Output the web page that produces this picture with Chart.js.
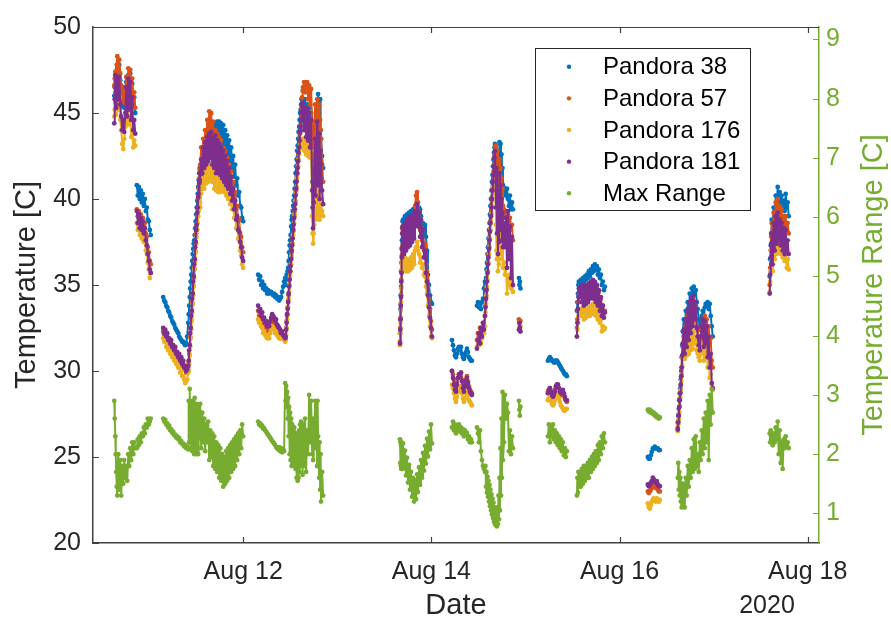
<!DOCTYPE html>
<html>
<head>
<meta charset="utf-8">
<title>Pandora temperatures</title>
<script src="https://cdn.jsdelivr.net/npm/chart.js@4.4.1/dist/chart.umd.min.js"></script>
<style>
  html, body { margin: 0; padding: 0; background: #fff; }
</style>
</head>
<body>
<canvas id="tempchart" width="891" height="624"></canvas>
<script>
// sample times, decimal day of August 2020
var dates = [
  10.630, 10.635, 10.641, 10.646, 10.651, 10.656, 10.662, 10.672, 10.683, 10.694, 10.704, 10.715, 10.725, 10.736, 10.747, 10.757, 10.768, 10.779, 10.789, 10.800, 10.810, 10.821, 10.832, 10.842, 10.853,
  10.870, 10.880, 10.891, 10.901, 10.912, 10.923, 10.933, 10.944, 10.955, 10.965, 10.976, 10.986, 10.997, 11.008, 11.018,
  11.150, 11.161, 11.172, 11.182, 11.193, 11.203, 11.214, 11.225, 11.235, 11.246, 11.256, 11.267, 11.278, 11.288, 11.299, 11.310, 11.320, 11.331, 11.342, 11.352, 11.363, 11.373, 11.384, 11.395, 11.405, 11.416,
  11.421, 11.426, 11.432, 11.437, 11.442, 11.448, 11.453, 11.458, 11.464, 11.469, 11.474, 11.480, 11.485, 11.490, 11.495, 11.501, 11.506, 11.512, 11.517, 11.522, 11.527, 11.533, 11.538,
  11.543, 11.554, 11.565, 11.575, 11.586, 11.596, 11.607, 11.618, 11.628, 11.639, 11.650, 11.660, 11.671, 11.681, 11.692, 11.703, 11.713, 11.724, 11.735, 11.745, 11.756, 11.766, 11.777, 11.788, 11.798, 11.809, 11.820, 11.830, 11.841, 11.851, 11.862, 11.873, 11.883, 11.894, 11.904, 11.915, 11.926, 11.936, 11.947, 11.958, 11.968, 11.979, 11.989, 12.000,
  12.159, 12.170, 12.181, 12.191, 12.202, 12.212, 12.223, 12.234, 12.244, 12.255, 12.265, 12.276, 12.287, 12.297, 12.308, 12.319, 12.329, 12.340, 12.350, 12.361, 12.372, 12.382, 12.393, 12.403, 12.414, 12.425, 12.435, 12.446,
  12.451, 12.457, 12.462, 12.467, 12.473, 12.478, 12.483, 12.488, 12.494, 12.499, 12.504, 12.510, 12.515, 12.520, 12.526, 12.531, 12.536, 12.542, 12.547, 12.552, 12.557, 12.563, 12.568, 12.573, 12.579, 12.584, 12.589, 12.595, 12.600, 12.605, 12.611, 12.616, 12.621, 12.626, 12.632, 12.637,
  12.648, 12.658, 12.669, 12.680, 12.690, 12.701, 12.711, 12.722, 12.733, 12.738, 12.743, 12.749, 12.754, 12.765, 12.770, 12.775, 12.786, 12.791, 12.796, 12.807, 12.812, 12.818, 12.823, 12.828, 12.839, 12.850,
  13.667, 13.670, 13.672, 13.675, 13.678, 13.680, 13.683, 13.686, 13.688, 13.691, 13.694, 13.699, 13.710, 13.720, 13.731, 13.741, 13.752, 13.763, 13.773, 13.784, 13.795, 13.805, 13.816, 13.826, 13.837, 13.848, 13.858, 13.869, 13.880, 13.890, 13.901, 13.911, 13.922, 13.933, 13.943, 13.954, 13.964, 13.975, 13.986, 13.996, 14.007,
  14.219, 14.230, 14.240, 14.251, 14.262, 14.272, 14.283, 14.293, 14.304, 14.315, 14.325, 14.336, 14.346, 14.357, 14.368, 14.378, 14.389, 14.400, 14.410, 14.421, 14.431,
  14.485, 14.496, 14.506, 14.517, 14.527, 14.538, 14.549, 14.559, 14.570,
  14.575, 14.581, 14.586, 14.591, 14.597, 14.602, 14.607, 14.613, 14.618, 14.623, 14.628, 14.634, 14.639, 14.644, 14.650, 14.655, 14.660, 14.666, 14.671, 14.676,
  14.682, 14.687, 14.692, 14.697, 14.703, 14.708, 14.713, 14.719, 14.724, 14.729, 14.735, 14.740, 14.745, 14.750, 14.756, 14.761,
  14.772, 14.782, 14.793, 14.804, 14.814, 14.825, 14.835, 14.846, 14.857, 14.867,
  14.931, 14.936, 14.941, 14.947,
  15.239, 15.249, 15.260, 15.271, 15.281, 15.292, 15.302, 15.313, 15.324, 15.334, 15.345, 15.356, 15.366, 15.377, 15.387, 15.398, 15.409, 15.419, 15.430, 15.440,
  15.547, 15.552, 15.558, 15.563, 15.568, 15.579, 15.589, 15.600, 15.611, 15.621, 15.632, 15.643, 15.653, 15.664, 15.674, 15.685, 15.696, 15.706, 15.717, 15.727, 15.738, 15.749, 15.759, 15.770, 15.780, 15.791, 15.802, 15.812, 15.823, 15.834, 15.844,
  16.301, 16.311, 16.322, 16.333, 16.343, 16.354, 16.364, 16.375, 16.386, 16.396, 16.407, 16.418, 16.428,
  16.619, 16.624, 16.630, 16.635, 16.640, 16.646, 16.651, 16.656, 16.661, 16.667, 16.672, 16.683, 16.693, 16.704, 16.714, 16.725, 16.736, 16.746, 16.757, 16.768, 16.778, 16.789, 16.799, 16.810, 16.821, 16.831, 16.842, 16.853, 16.863, 16.874, 16.884, 16.895, 16.906, 16.916, 16.927, 16.937, 16.948, 16.959, 16.969, 16.980, 16.991,
  17.596, 17.601, 17.607, 17.612, 17.617, 17.628, 17.638, 17.649, 17.660, 17.670, 17.681, 17.692, 17.702, 17.713, 17.723, 17.734, 17.745, 17.755, 17.766, 17.777, 17.787, 17.798
];

var pandora38 = [
  46.0, 46.5, 47.0, 46.8, 46.4, 47.2, 47.6, 46.8, 47.8, 46.9, 46.3, 45.4, 46.2, 45.3, 46.0, 46.8, 46.1, 47.2, 46.4, 47.3, 46.0, 46.7, 45.4, 45.9, 45.0,
  40.8, 40.2, 40.7, 40.0, 40.5, 39.8, 40.3, 39.6, 40.0, 39.3, 39.5, 38.8, 38.7, 38.2, 37.9,
  34.3, 34.1, 34.0, 33.8, 33.7, 33.5, 33.4, 33.2, 33.1, 32.9, 32.8, 32.7, 32.5, 32.4, 32.3, 32.2, 32.0, 31.9, 31.8, 31.7, 31.7, 31.6, 31.5, 31.6, 32.0, 32.8,
  33.3, 33.8, 34.3, 34.8, 35.2, 35.6, 36.0, 36.4, 36.8, 37.1, 37.4, 37.6, 37.9, 38.3, 38.7, 39.1, 39.5, 39.9, 40.3, 40.7, 41.1, 41.5, 41.8,
  40.5, 42.0, 41.0, 42.8, 41.5, 43.2, 42.0, 43.5, 42.3, 43.8, 42.5, 44.0, 42.8, 44.2, 43.0, 44.4, 43.2, 44.5, 43.4, 44.5, 43.2, 44.4, 43.0, 44.3, 42.8, 44.0, 42.6, 43.7, 42.3, 43.4, 42.0, 43.0, 41.7, 42.5, 41.3, 42.0, 40.8, 41.2, 40.2, 40.4, 39.6, 39.5, 38.9, 38.7,
  35.6, 35.3, 35.5, 35.0, 35.2, 34.8, 35.0, 34.7, 34.8, 34.5, 34.7, 34.5, 34.6, 34.6, 34.5, 34.4, 34.5, 34.3, 34.4, 34.2, 34.3, 34.1, 34.2, 34.3, 34.6, 34.9, 35.2, 35.4,
  35.0, 35.3, 35.6, 35.4, 35.8, 36.0, 36.4, 36.9, 37.3, 37.6, 37.9, 38.4, 38.8, 39.0, 39.3, 39.6, 39.9, 40.2, 40.6, 41.0, 41.5, 41.9, 42.3, 42.8, 43.1, 43.5, 43.9, 44.2, 44.6, 45.0, 45.2, 45.5, 45.8, 45.2, 44.8, 45.5,
  44.5, 45.8, 44.2, 45.5, 44.0, 45.3, 43.5, 45.0, 41.0, 42.5, 43.0, 41.5, 42.0, 44.5, 42.0, 43.0, 45.5, 43.5, 46.1, 45.0, 42.8, 45.8, 44.0, 43.5, 42.5, 41.8,
  32.2, 33.0, 33.6, 34.4, 34.9, 35.8, 36.3, 37.1, 37.6, 38.3, 38.7, 38.8, 38.3, 39.0, 38.4, 39.1, 38.5, 39.2, 38.6, 39.3, 38.7, 39.4, 38.8, 39.5, 39.0, 39.8, 39.2, 39.5, 39.4, 39.0, 38.6, 38.6, 38.0, 38.5, 37.8, 37.0, 35.6, 35.0, 34.4, 34.0, 33.9,
  31.8, 31.5, 31.2, 30.9, 30.8, 31.0, 31.3, 31.4, 31.2, 31.4, 31.0, 30.8, 30.7, 30.9, 31.1, 31.3, 31.1, 30.8, 30.7, 30.6, 30.6,
  33.8, 34.0, 33.7, 33.9, 33.6, 34.0, 34.2, 34.8, 35.2,
  35.0, 35.4, 35.9, 36.3, 36.8, 37.2, 37.7, 38.2, 38.6, 39.1, 39.6, 40.0, 40.5, 41.0, 41.4, 41.9, 42.3, 42.7, 43.0, 43.2,
  43.0, 41.5, 42.5, 40.5, 42.0, 41.0, 42.8, 41.5, 43.3, 42.0, 43.2, 41.5, 42.6, 41.0, 41.8, 40.8,
  40.4, 40.6, 40.2, 40.6, 40.0, 39.6, 40.2, 39.4, 39.8, 39.4,
  35.4, 35.0, 35.2, 34.8,
  30.6, 30.7, 30.8, 30.7, 30.6, 30.6, 30.5, 30.5, 30.6, 30.6, 30.5, 30.4, 30.3, 30.2, 30.1, 30.0, 29.9, 29.8, 29.8, 29.7,
  33.5, 34.0, 34.5, 35.0, 35.2, 35.0, 35.3, 35.1, 35.4, 35.2, 35.5, 35.3, 35.6, 35.4, 35.8, 35.5, 35.9, 35.7, 36.1, 35.8, 36.2, 35.9, 36.1, 35.6, 35.9, 35.4, 35.6, 35.0, 35.2, 34.7, 34.9,
  25.0, 24.9, 24.9, 25.1, 25.3, 25.5, 25.5, 25.6, 25.5, 25.5, 25.5, 25.4, 25.4,
  27.0, 27.4, 27.8, 28.3, 28.7, 29.0, 29.5, 30.0, 30.8, 31.5, 32.3, 33.0, 32.2, 33.5, 32.6, 34.0, 33.0, 34.5, 33.5, 34.8, 34.0, 34.9, 34.6, 34.7, 34.0, 33.6, 33.0, 32.4, 33.0, 33.2, 33.5, 32.8, 33.7, 33.9, 33.8, 34.0, 33.6, 33.9, 33.2, 32.6, 32.0,
  35.5, 36.5, 37.3, 38.0, 38.8, 38.2, 39.5, 39.0, 40.2, 39.6, 40.7, 39.8, 40.4, 39.6, 40.2, 39.4, 39.9, 39.3, 40.3, 39.5, 39.8, 39.0
];

var pandora57 = [
  46.6, 47.0, 47.4, 47.2, 46.9, 47.8, 48.3, 47.5, 48.1, 47.3, 46.6, 45.8, 46.5, 45.6, 46.3, 47.1, 46.5, 47.6, 46.8, 47.5, 46.4, 47.0, 45.8, 46.2, 45.3,
  39.4, 39.0, 39.3, 38.8, 39.1, 38.6, 38.9, 38.4, 38.6, 38.0, 37.8, 37.2, 36.9, 36.4, 36.2,
  32.3, 32.1, 32.2, 31.9, 32.0, 31.7, 31.8, 31.5, 31.6, 31.3, 31.4, 31.1, 31.2, 30.9, 31.0, 30.7, 30.8, 30.5, 30.6, 30.3, 30.4, 30.1, 30.1, 29.9, 29.9, 30.2,
  30.5, 31.0, 31.5, 32.0, 32.5, 33.0, 33.5, 34.0, 34.5, 35.0, 35.5, 36.0, 36.5, 37.0, 37.5, 38.0, 38.5, 39.0, 39.5, 40.0, 40.6, 41.2, 41.7,
  42.0, 43.0, 42.0, 43.5, 42.2, 44.0, 42.8, 44.6, 43.0, 45.1, 43.2, 45.0, 43.5, 44.5, 42.8, 44.0, 42.6, 43.8, 42.5, 43.6, 42.3, 43.4, 42.0, 43.0, 41.8, 42.8, 41.5, 42.4, 41.2, 42.0, 40.9, 41.6, 40.5, 41.0, 40.0, 40.4, 39.4, 39.6, 38.7, 38.8, 38.0, 37.8, 37.2, 36.9,
  33.5, 33.2, 33.4, 33.0, 33.1, 32.7, 32.8, 32.5, 32.6, 32.3, 32.5, 32.4, 32.6, 32.8, 32.9, 33.0, 32.8, 32.7, 32.6, 32.4, 32.3, 32.2, 32.0, 31.9, 32.1, 32.0, 31.9, 31.8,
  31.9, 32.5, 32.9, 33.2, 33.7, 34.1, 34.4, 35.0, 35.4, 35.7, 36.2, 36.6, 36.9, 37.4, 37.8, 38.1, 38.6, 39.0, 39.3, 39.8, 40.3, 40.5, 41.1, 41.4, 41.9, 42.3, 42.6, 43.1, 43.5, 43.8, 44.3, 44.8, 45.3, 45.9, 46.3, 46.5,
  46.8, 46.2, 46.7, 46.8, 45.8, 46.6, 45.5, 46.4, 44.5, 43.0, 42.5, 42.0, 44.0, 45.5, 43.0, 44.2, 45.8, 44.0, 45.0, 45.5, 43.0, 44.6, 44.0, 43.5, 42.0, 41.0,
  31.7, 32.5, 33.1, 33.9, 34.4, 35.3, 35.8, 36.7, 37.2, 38.0, 38.3, 38.0, 37.2, 38.3, 37.4, 38.5, 37.6, 38.6, 37.8, 38.8, 38.0, 39.0, 38.4, 39.6, 40.2, 40.4, 39.8, 39.2, 38.2, 38.8, 37.6, 38.2, 37.0, 37.4, 36.2, 35.8, 34.9, 34.2, 33.6, 32.9, 32.4,
  30.0, 29.8, 29.5, 29.2, 29.0, 29.3, 29.6, 29.8, 29.7, 29.9, 29.5, 29.2, 29.0, 29.2, 29.5, 29.7, 29.4, 29.1, 28.9, 28.8, 28.7,
  31.8, 32.2, 31.9, 32.5, 32.1, 32.4, 32.8, 32.6, 33.2,
  33.8, 34.3, 34.8, 35.3, 35.8, 36.3, 36.8, 37.2, 37.7, 38.2, 38.7, 39.2, 39.6, 40.1, 40.6, 41.1, 41.6, 42.0, 42.5, 43.0,
  42.8, 43.1, 42.5, 41.5, 42.8, 41.0, 42.0, 40.5, 42.3, 41.0, 41.8, 40.5, 41.2, 40.0, 40.6, 39.6,
  39.4, 39.0, 39.3, 38.8, 39.1, 38.7, 38.9, 38.2, 38.5, 37.6,
  33.0, 32.8, 32.6, 32.9,
  28.8, 28.9, 29.0, 28.8, 28.7, 28.6, 28.7, 28.9, 29.1, 29.2, 29.2, 29.0, 28.8, 28.6, 28.6, 28.7, 28.6, 28.4, 28.3, 28.2,
  32.5, 33.0, 33.6, 34.0, 34.4, 34.6, 34.8, 34.3, 34.9, 34.2, 34.7, 34.1, 34.8, 34.3, 34.9, 34.4, 35.0, 34.5, 35.1, 34.6, 35.1, 34.4, 34.9, 34.2, 34.6, 34.0, 34.2, 33.6, 33.8, 33.4, 33.5,
  23.0, 22.9, 23.0, 23.1, 23.2, 23.4, 23.3, 23.3, 23.2, 23.3, 23.1, 23.0, 23.0,
  26.7, 27.1, 27.5, 27.9, 28.4, 28.8, 29.2, 29.7, 30.2, 30.8, 31.4, 32.0, 31.2, 32.6, 31.6, 33.2, 32.0, 33.6, 32.5, 33.8, 32.8, 34.0, 33.2, 33.8, 32.6, 32.4, 31.8, 31.5, 32.0, 32.5, 33.0, 31.8, 33.2, 32.5, 33.0, 32.2, 32.6, 31.6, 31.9, 30.6, 30.2,
  35.0, 36.0, 37.0, 37.8, 38.6, 37.5, 39.2, 38.2, 39.8, 38.6, 40.0, 38.8, 39.6, 38.6, 39.4, 38.3, 39.0, 38.2, 39.0, 38.2, 38.6, 38.0
];

var pandora176 = [
  44.8, 45.2, 45.6, 45.3, 44.9, 45.6, 46.2, 45.2, 45.9, 44.6, 44.0, 43.2, 42.9, 43.5, 44.2, 45.0, 44.3, 45.3, 44.4, 44.8, 43.6, 44.2, 43.0, 43.4, 43.1,
  38.6, 38.2, 38.4, 37.9, 38.1, 37.7, 37.9, 37.5, 37.6, 37.0, 36.8, 36.3, 35.9, 35.4, 35.7,
  31.9, 31.7, 31.8, 31.4, 31.6, 31.2, 31.3, 31.0, 31.1, 30.8, 30.9, 30.6, 30.7, 30.4, 30.5, 30.2, 30.2, 29.9, 30.0, 29.7, 29.7, 29.5, 29.3, 29.4, 29.5, 29.9,
  30.0, 30.4, 30.9, 31.4, 31.9, 32.4, 32.9, 33.4, 33.9, 34.4, 34.9, 35.4, 35.9, 36.4, 36.9, 37.4, 37.8, 38.2, 38.6, 39.0, 39.3, 39.6, 39.8,
  39.5, 40.3, 40.8, 41.2, 40.6, 41.6, 40.9, 41.8, 41.0, 42.0, 41.2, 41.9, 41.0, 41.8, 40.6, 42.0, 40.5, 41.8, 40.4, 41.6, 40.4, 41.5, 40.5, 41.3, 40.4, 41.0, 40.2, 40.8, 40.0, 40.6, 39.7, 40.2, 39.4, 39.8, 38.9, 39.2, 38.3, 38.5, 37.7, 37.6, 37.0, 36.7, 36.2, 36.0,
  33.0, 32.8, 32.9, 32.6, 32.5, 32.2, 32.3, 32.1, 32.0, 31.9, 32.1, 31.9, 32.2, 32.4, 32.6, 32.5, 32.4, 32.2, 32.3, 32.1, 32.0, 31.9, 31.9, 32.0, 31.9, 31.9, 31.8, 31.7,
  31.8, 32.1, 32.5, 33.0, 33.3, 33.7, 34.2, 34.6, 35.0, 35.5, 35.8, 36.2, 36.7, 37.0, 37.4, 37.9, 38.2, 38.6, 39.1, 39.4, 39.9, 40.3, 40.7, 41.2, 41.5, 41.9, 42.3, 42.6, 42.9, 43.2, 43.0, 43.4, 43.2, 43.5, 43.0, 43.5,
  42.8, 43.4, 42.6, 43.2, 42.5, 43.0, 42.4, 42.8, 39.0, 38.0, 37.4, 38.0, 38.5, 40.5, 38.8, 39.5, 40.8, 39.0, 39.6, 40.3, 38.8, 39.1, 40.5, 39.8, 39.3, 39.0,
  31.5, 32.2, 32.8, 33.5, 34.0, 34.8, 35.2, 35.9, 36.2, 36.5, 36.3, 36.4, 35.9, 36.6, 35.8, 36.5, 35.8, 36.4, 35.9, 36.6, 36.0, 36.8, 36.2, 37.0, 37.2, 37.5, 37.0, 36.8, 36.3, 36.6, 36.0, 36.2, 35.6, 35.5, 34.9, 34.5, 33.8, 33.2, 32.6, 32.0, 31.9,
  29.2, 29.0, 28.7, 28.4, 28.2, 28.5, 28.8, 29.0, 28.9, 29.1, 28.7, 28.4, 28.2, 28.4, 28.7, 28.9, 28.6, 28.3, 28.2, 28.1, 28.0,
  31.4, 31.7, 31.5, 31.9, 31.6, 31.9, 32.2, 32.2, 32.6,
  33.4, 33.9, 34.4, 34.9, 35.3, 35.8, 36.3, 36.8, 37.2, 37.7, 38.2, 38.6, 39.1, 39.5, 39.9, 40.3, 40.7, 41.0, 41.3, 41.5,
  40.5, 38.5, 37.0, 36.5, 38.0, 35.8, 37.2, 36.2, 39.0, 37.5, 38.5, 36.8, 38.0, 36.5, 37.4, 36.0,
  36.3, 35.6, 36.0, 34.5, 35.5, 35.0, 35.6, 34.8, 35.2, 34.6,
  32.8, 32.5, 32.3, 32.6,
  28.3, 28.4, 28.4, 28.3, 28.1, 28.0, 28.1, 28.3, 28.5, 28.6, 28.5, 28.4, 28.2, 28.0, 27.9, 27.8, 27.7, 27.7, 27.8, 27.8,
  32.0, 32.4, 32.8, 33.2, 33.5, 33.3, 33.6, 33.2, 33.7, 33.0, 33.6, 33.1, 33.5, 33.2, 33.7, 33.2, 33.8, 33.4, 33.9, 33.3, 33.8, 33.2, 33.6, 33.0, 33.3, 32.8, 33.0, 32.3, 32.6, 32.4, 32.5,
  22.3, 22.1, 22.0, 22.2, 22.4, 22.5, 22.6, 22.5, 22.4, 22.6, 22.5, 22.4, 22.5,
  26.5, 26.9, 27.2, 27.6, 28.0, 28.5, 28.9, 29.4, 29.8, 30.3, 30.8, 31.2, 30.7, 31.4, 30.9, 31.8, 31.0, 32.0, 31.2, 32.2, 31.3, 32.3, 31.6, 32.0, 31.2, 31.0, 30.8, 30.6, 31.0, 31.3, 31.6, 30.6, 31.6, 30.8, 31.4, 30.2, 30.8, 29.6, 29.8, 29.2, 28.9,
  34.6, 35.2, 35.8, 36.4, 37.0, 35.8, 37.4, 36.5, 37.8, 36.8, 38.0, 37.0, 37.8, 36.8, 37.5, 36.6, 37.2, 36.4, 37.0, 36.0, 36.5, 35.9
];

var pandora181 = [
  44.4, 45.8, 47.2, 46.2, 45.3, 46.3, 47.0, 45.8, 47.1, 45.5, 44.8, 44.0, 44.6, 43.9, 45.0, 46.5, 44.8, 47.0, 45.2, 46.8, 44.6, 45.9, 44.0, 44.6, 43.8,
  39.3, 38.6, 39.1, 38.3, 38.9, 38.2, 38.7, 38.0, 38.3, 37.6, 37.3, 36.8, 36.4, 35.9, 35.7,
  32.5, 32.2, 32.4, 32.0, 32.2, 31.8, 31.9, 31.6, 31.8, 31.4, 31.5, 31.2, 31.4, 31.0, 31.1, 30.8, 31.0, 30.6, 30.8, 30.4, 30.6, 30.2, 30.3, 30.0, 30.1, 30.3,
  30.6, 31.2, 31.5, 32.2, 32.5, 33.2, 33.5, 34.2, 34.5, 35.2, 35.5, 36.2, 36.5, 37.2, 37.5, 38.2, 38.5, 39.2, 39.5, 40.1, 40.3, 40.9, 41.1,
  41.5, 42.3, 41.5, 43.0, 41.8, 43.3, 42.0, 43.6, 42.2, 43.8, 42.4, 43.9, 42.0, 43.5, 41.8, 43.7, 41.5, 43.4, 41.6, 43.2, 41.4, 43.0, 41.2, 42.8, 41.0, 42.5, 40.8, 42.2, 40.6, 41.8, 40.3, 41.3, 39.9, 40.6, 39.4, 39.9, 38.8, 39.0, 38.2, 38.1, 37.5, 37.2, 36.6, 36.4,
  33.8, 33.5, 33.6, 33.2, 33.4, 33.0, 33.1, 32.8, 32.9, 32.6, 32.8, 32.6, 32.9, 33.1, 33.3, 33.2, 33.1, 32.9, 33.0, 32.7, 32.6, 32.5, 32.4, 32.2, 32.3, 32.1, 32.0, 31.9,
  32.0, 32.4, 32.8, 33.3, 33.6, 34.0, 34.5, 34.9, 35.3, 35.8, 36.1, 36.5, 37.0, 37.3, 37.7, 38.2, 38.5, 38.9, 39.4, 39.7, 40.2, 40.6, 41.0, 41.5, 41.8, 42.2, 42.7, 43.0, 43.4, 43.9, 44.2, 44.6, 45.0, 45.4, 45.6, 45.0,
  44.0, 45.3, 43.6, 45.2, 43.4, 45.0, 43.0, 44.6, 40.5, 39.5, 38.3, 39.8, 41.0, 43.5, 40.2, 41.5, 44.5, 40.8, 42.0, 43.8, 40.0, 41.2, 42.8, 42.0, 40.5, 39.7,
  31.6, 32.4, 33.0, 33.8, 34.3, 35.2, 35.7, 36.6, 37.1, 38.0, 38.4, 38.2, 36.8, 38.6, 37.0, 38.8, 37.2, 38.9, 37.3, 39.0, 37.5, 39.1, 37.7, 39.3, 38.5, 39.7, 38.4, 39.2, 37.8, 38.8, 37.2, 38.2, 36.6, 37.0, 35.7, 35.2, 34.4, 33.7, 33.1, 32.5, 32.0,
  30.0, 29.6, 29.2, 28.9, 28.8, 29.2, 29.6, 29.8, 29.7, 29.9, 29.4, 29.0, 28.8, 29.1, 29.4, 29.6, 29.3, 29.0, 28.8, 28.7, 28.6,
  31.3, 31.8, 32.2, 31.6, 32.5, 32.0, 32.8, 32.4, 33.2,
  33.7, 34.2, 34.7, 35.2, 35.7, 36.2, 36.6, 37.1, 37.6, 38.1, 38.6, 39.0, 39.5, 40.0, 40.5, 41.0, 41.4, 41.9, 42.4, 42.8,
  41.5, 39.5, 41.8, 38.0, 40.5, 36.8, 40.0, 37.5, 41.5, 39.0, 40.8, 38.2, 40.0, 37.6, 39.2, 37.2,
  38.6, 37.2, 38.9, 36.0, 39.3, 36.5, 38.4, 35.4, 37.8, 35.0,
  32.4, 32.8, 32.5, 32.3,
  28.7, 28.9, 29.0, 28.8, 28.6, 28.5, 28.6, 28.8, 29.1, 29.2, 29.2, 29.0, 28.8, 28.7, 28.8, 28.9, 28.7, 28.5, 28.3, 28.3,
  32.0, 32.8, 33.6, 34.3, 34.8, 34.3, 34.9, 34.0, 35.0, 33.8, 34.9, 33.9, 35.0, 34.0, 35.1, 34.2, 35.2, 34.3, 35.3, 34.2, 35.2, 34.0, 35.0, 33.8, 34.7, 33.5, 34.3, 33.2, 33.8, 33.1, 33.4,
  23.4, 23.3, 23.4, 23.5, 23.6, 23.8, 23.7, 23.6, 23.5, 23.6, 23.4, 23.3, 23.3,
  26.6, 27.0, 27.4, 27.9, 28.3, 28.7, 29.2, 29.7, 30.2, 30.9, 31.6, 32.4, 31.0, 33.0, 31.4, 33.6, 31.8, 34.0, 32.2, 34.3, 32.6, 34.4, 33.0, 34.0, 32.5, 32.0, 31.5, 31.2, 32.0, 32.6, 33.0, 31.4, 32.9, 31.6, 32.6, 30.8, 32.0, 30.2, 31.0, 29.3, 29.0,
  34.5, 35.6, 36.6, 37.4, 38.0, 36.2, 38.6, 37.0, 39.0, 37.4, 39.2, 37.6, 38.8, 37.3, 38.6, 37.0, 38.3, 36.8, 38.2, 36.9, 37.6, 36.8
];

// spread between the four instruments, right axis
var maxRange = [
  2.9, 2.6, 2.3, 2.0, 1.7, 1.45, 1.3, 2.0, 1.4, 1.9, 1.3, 1.8, 1.5, 1.9, 1.6, 1.8, 1.55, 2.0, 1.8, 2.1, 1.9, 2.2, 2.0, 2.2, 2.1,
  2.1, 2.25, 2.15, 2.3, 2.2, 2.35, 2.3, 2.45, 2.35, 2.5, 2.45, 2.6, 2.5, 2.55, 2.6,
  2.6, 2.55, 2.58, 2.5, 2.52, 2.45, 2.48, 2.4, 2.42, 2.36, 2.38, 2.32, 2.33, 2.28, 2.3, 2.25, 2.27, 2.2, 2.22, 2.17, 2.18, 2.13, 2.15, 2.1, 2.12, 2.08,
  2.9, 2.2, 3.1, 2.3, 2.85, 2.1, 2.75, 2.05, 2.9, 2.2, 2.8, 2.0, 2.95, 2.15, 2.7, 2.0, 2.85, 2.25, 2.6, 2.0, 2.8, 2.3, 2.7,
  2.85, 2.1, 2.7, 2.2, 2.6, 2.05, 2.5, 2.2, 2.55, 1.9, 2.4, 1.95, 2.35, 1.8, 2.3, 1.75, 2.2, 1.7, 2.15, 1.6, 2.1, 1.55, 2.0, 1.45, 1.95, 1.5, 2.05, 1.55, 2.1, 1.6, 2.15, 1.7, 2.2, 1.75, 2.25, 1.8, 2.3, 1.9, 2.35, 2.0, 2.4, 2.1, 2.5, 2.3,
  2.55, 2.5, 2.52, 2.47, 2.48, 2.43, 2.44, 2.4, 2.38, 2.35, 2.33, 2.3, 2.28, 2.25, 2.22, 2.2, 2.18, 2.15, 2.12, 2.1, 2.08, 2.12, 2.05, 2.1, 2.03, 2.08, 2.05, 3.2,
  2.9, 3.15, 2.8, 3.05, 2.6, 2.95, 2.3, 2.8, 2.0, 2.7, 1.9, 2.6, 1.8, 2.5, 1.85, 2.4, 1.9, 2.45, 1.8, 2.3, 1.75, 2.35, 1.6, 2.2, 1.55, 2.3, 1.6, 2.4, 1.7, 2.5, 1.8, 2.55, 1.9, 2.45, 1.65, 2.5,
  1.8, 2.6, 1.7, 2.4, 2.0, 3.0, 2.2, 2.9, 2.0, 2.6, 1.9, 2.5, 2.2, 2.9, 2.1, 2.6, 1.8, 2.9, 2.3, 1.6, 2.2, 1.4, 2.0, 1.2, 1.7, 1.3,
  2.25, 1.85, 2.2, 1.8, 2.15, 1.75, 2.2, 1.8, 2.1, 1.75, 2.05, 2.18, 1.76, 2.06, 1.64, 1.94, 1.52, 1.82, 1.4, 1.7, 1.28, 1.6, 1.2, 1.56, 1.24, 1.66, 1.36, 1.78, 1.48, 1.9, 1.6, 2.02, 1.72, 2.14, 1.84, 2.26, 1.96, 2.38, 2.08, 2.5, 2.18,
  2.45, 2.55, 2.4, 2.5, 2.35, 2.45, 2.4, 2.5, 2.38, 2.45, 2.35, 2.42, 2.3, 2.4, 2.32, 2.36, 2.25, 2.3, 2.2, 2.25, 2.2,
  2.45, 2.35, 2.2, 2.4, 2.05, 1.9, 1.8, 1.75, 1.7,
  1.8, 1.45, 1.7, 1.35, 1.62, 1.28, 1.55, 1.2, 1.48, 1.12, 1.4, 1.05, 1.32, 0.98, 1.25, 0.92, 1.18, 0.86, 1.1, 0.82,
  1.05, 0.8, 1.0, 0.78, 1.1, 0.82, 1.3, 0.9, 1.6, 1.05, 2.1, 1.3, 2.6, 1.6, 3.05, 1.9,
  2.2, 3.0, 2.6, 2.85, 2.7, 2.05, 2.4, 2.0, 2.3, 2.1,
  2.9, 2.75, 2.65, 2.8,
  2.3, 2.5, 2.2, 2.45, 2.3, 2.5, 2.25, 2.4, 2.2, 2.35, 2.15, 2.3, 2.1, 2.25, 2.05, 2.2, 1.98, 2.1, 1.95, 2.05,
  1.3, 1.6, 1.35, 1.7, 1.45, 1.7, 1.45, 1.75, 1.5, 1.8, 1.55, 1.8, 1.6, 1.85, 1.6, 1.9, 1.7, 1.95, 1.75, 2.0, 1.8, 2.05, 1.85, 2.15, 1.9, 2.2, 2.0, 2.3, 2.1, 2.35, 2.2,
  2.75, 2.72, 2.75, 2.7, 2.72, 2.68, 2.7, 2.65, 2.67, 2.62, 2.64, 2.6, 2.62,
  1.6, 1.85, 1.4, 1.7, 1.3, 1.6, 1.2, 1.5, 1.1, 1.4, 1.15, 1.5, 1.1, 1.6, 1.3, 1.8, 1.45, 1.9, 1.6, 2.1, 1.7, 2.25, 1.75, 2.3, 1.8, 2.0, 1.7, 2.2, 1.9, 2.4, 2.0, 2.6, 2.1, 2.7, 2.2, 2.9, 1.9, 3.0, 2.5, 3.1, 2.7,
  2.35, 2.2, 2.4, 2.25, 2.3, 2.15, 2.35, 2.2, 2.45, 2.25, 2.55, 2.0, 2.4, 1.85, 2.2, 1.75, 2.25, 2.1, 2.3, 2.15, 2.2, 2.1
];

var dateTicks = [12, 14, 16, 18];
var dateTickLabels = ['Aug 12', 'Aug 14', 'Aug 16', 'Aug 18'];
var tempTicks = [20, 25, 30, 35, 40, 45, 50];
var rangeTicks = [1, 2, 3, 4, 5, 6, 7, 8, 9];

var FONT = "'Liberation Sans', Arial, Helvetica, sans-serif";
var AXIS = '#262626';
var GREEN = '#77AC30';
var MAX_STEP = 0.015; // days; a longer pause between samples is a logging gap

function toPoints(values) {
  return dates.map(function (d, i) { return { x: d, y: values[i] }; });
}

function fixedTicks(list) {
  return function (scale) {
    scale.ticks = list.map(function (v) { return { value: v }; });
  };
}

// the samples are so dense that they read as a band; join neighbours inside one logging run
function series(label, values, color, axis, order) {
  return {
    label: label,
    data: toPoints(values),
    yAxisID: axis,
    order: order,
    backgroundColor: color,
    borderColor: color,
    showLine: true,
    borderWidth: 2,
    borderJoinStyle: 'round',
    borderCapStyle: 'round',
    pointRadius: 2.4,
    pointBorderWidth: 0,
    pointHoverRadius: 0,
    segment: {
      borderColor: function (ctx) {
        return ctx.p1.parsed.x - ctx.p0.parsed.x > MAX_STEP ? 'rgba(0,0,0,0)' : undefined;
      }
    }
  };
}

// inward ticks, top frame line, legend box and the texts chart.js cannot place
var matlabFrame = {
  id: 'matlabFrame',
  beforeDatasetsDraw: function (chart) {
    var ctx = chart.ctx, a = chart.chartArea, s = chart.scales;
    ctx.save();
    ctx.lineWidth = 1.2;
    ctx.strokeStyle = '#404040';
    ctx.beginPath();
    ctx.moveTo(a.left, a.top + 0.5);
    ctx.lineTo(a.right, a.top + 0.5);
    s.x.ticks.forEach(function (t) {
      var px = Math.round(s.x.getPixelForValue(t.value)) + 0.5;
      ctx.moveTo(px, a.bottom); ctx.lineTo(px, a.bottom - 6);
      ctx.moveTo(px, a.top); ctx.lineTo(px, a.top + 6);
    });
    s.y.ticks.forEach(function (t) {
      var py = Math.round(s.y.getPixelForValue(t.value)) + 0.5;
      ctx.moveTo(a.left, py); ctx.lineTo(a.left + 6, py);
    });
    ctx.stroke();
    ctx.strokeStyle = GREEN;
    ctx.beginPath();
    s.y1.ticks.forEach(function (t) {
      var py = Math.round(s.y1.getPixelForValue(t.value)) + 0.5;
      ctx.moveTo(a.right, py); ctx.lineTo(a.right - 6, py);
    });
    ctx.stroke();
    ctx.restore();
  },
  afterDraw: function (chart) {
    var ctx = chart.ctx, a = chart.chartArea;
    ctx.save();

    // legend
    ctx.fillStyle = '#fff';
    ctx.fillRect(535, 48, 216, 163);
    ctx.strokeStyle = '#262626';
    ctx.lineWidth = 1;
    ctx.strokeRect(535.5, 48.5, 215, 162);
    ctx.font = '24px ' + FONT;
    ctx.textBaseline = 'middle';
    ctx.textAlign = 'left';
    chart.data.datasets.forEach(function (ds, i) {
      var cy = 66.7 + i * 31.65;
      ctx.fillStyle = ds.backgroundColor;
      ctx.beginPath();
      ctx.arc(569, cy, 2.2, 0, Math.PI * 2);
      ctx.fill();
      ctx.fillStyle = '#000';
      ctx.fillText(ds.label, 603, cy + 1);
    });

    // right axis label, reads bottom to top like the left one
    ctx.save();
    ctx.translate(874, (a.top + a.bottom) / 2);
    ctx.rotate(-Math.PI / 2);
    ctx.textAlign = 'center';
    ctx.fillStyle = GREEN;
    ctx.font = '29px ' + FONT;
    ctx.fillText('Temperature Range [C]', 0, 0);
    ctx.restore();

    // year under the last date tick
    ctx.textAlign = 'center';
    ctx.fillStyle = AXIS;
    ctx.font = '25px ' + FONT;
    ctx.fillText('2020', 767, 606);
    ctx.restore();
  }
};

var chartConfig = {
  type: 'scatter',
  data: {
    datasets: [
      series('Pandora 38', pandora38, '#0072BD', 'y', 4),
      series('Pandora 57', pandora57, '#D95319', 'y', 3),
      series('Pandora 176', pandora176, '#EDB120', 'y', 2),
      series('Pandora 181', pandora181, '#7E2F8E', 'y', 1),
      series('Max Range', maxRange, GREEN, 'y1', 0)
    ]
  },
  options: {
    responsive: false,
    animation: false,
    devicePixelRatio: 1,
    events: [],
    layout: { padding: { top: 24, left: 0, right: 0, bottom: 0 } },
    plugins: { legend: { display: false }, tooltip: { enabled: false } },
    scales: {
      x: {
        type: 'linear',
        position: 'bottom',
        min: 10.404,
        max: 18.12,
        afterBuildTicks: fixedTicks(dateTicks),
        afterFit: function (scale) { scale.height = 81; },
        ticks: {
          color: AXIS, padding: 14, maxRotation: 0, autoSkip: false,
          font: { family: FONT, size: 25 },
          callback: function (v, i) { return dateTickLabels[i]; }
        },
        grid: { display: false, drawTicks: false },
        border: { display: true, color: '#404040', width: 1.5 },
        title: { display: true, text: 'Date', color: AXIS, font: { family: FONT, size: 29 }, padding: { top: 0, bottom: 1 } }
      },
      y: {
        position: 'left',
        min: 20,
        max: 50,
        afterBuildTicks: fixedTicks(tempTicks),
        afterFit: function (scale) { scale.width = 93; },
        ticks: { color: AXIS, padding: 12, font: { family: FONT, size: 25 } },
        grid: { display: false, drawTicks: false },
        border: { display: true, color: '#404040', width: 1.5 },
        title: { display: true, text: 'Temperature [C]', color: AXIS, font: { family: FONT, size: 29 }, padding: { top: 10, bottom: 0 } }
      },
      y1: {
        position: 'right',
        min: 0.5,
        max: 9.21,
        afterBuildTicks: fixedTicks(rangeTicks),
        afterFit: function (scale) { scale.width = 72; },
        ticks: { color: GREEN, padding: 7, font: { family: FONT, size: 25 } },
        grid: { display: false, drawTicks: false },
        border: { display: true, color: GREEN, width: 1.5 }
      }
    }
  },
  plugins: [matlabFrame]
};

try {
  var tempChart = new Chart(document.getElementById('tempchart').getContext('2d'), chartConfig);
} catch (e) {
  console.log('Failed to draw chart', e);
}
</script>
</body>
</html>
